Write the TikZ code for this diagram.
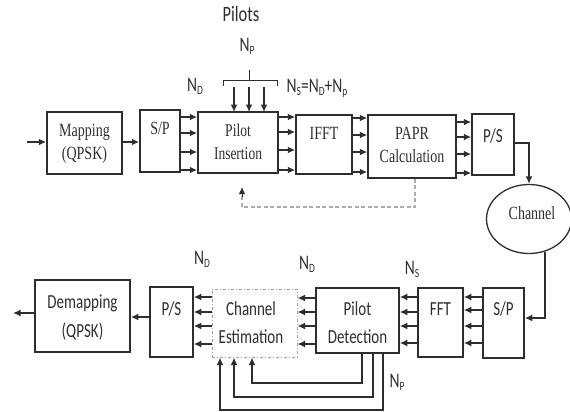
\documentclass[tikz,border=0pt]{standalone}
\usepackage{graphicx}
\usepackage{fontspec}
\setmainfont{Liberation Serif}
\newfontfamily\calib{Carlito}
\usetikzlibrary{arrows.meta,shapes.geometric}
\definecolor{ink}{HTML}{2E2E2E}
\newcommand\lo[1]{\raisebox{-0.35ex}{\fontsize{9.5}{9.5}\selectfont #1}}
\newcommand\tall[1]{\scalebox{1}[1.33]{\begin{tabular}{@{}c@{}}#1\end{tabular}}}
\tikzset{
  box/.style={draw=ink,line width=1.5pt,rectangle,inner sep=0pt},
  cebox/.style={draw=gray!75,line width=1pt,dash dot,rectangle,inner sep=0pt},
  serif/.style={text=ink,font=\fontsize{14}{17.3}\selectfont,inner sep=0pt},
  sans/.style={text=ink,font=\calib\fontsize{15}{21}\selectfont,inner sep=0pt},
  lab/.style={text=ink,font=\calib\fontsize{15.5}{17}\selectfont,inner sep=0pt},
  conn/.style={draw=ink,line width=1.5pt,-{Latex[length=7.5pt,width=7pt]}},
  wire/.style={draw=ink,line width=1.3pt},
  fb/.style={draw=gray!65,line width=1.2pt,dash pattern=on 4pt off 2.5pt},
}
\begin{document}
\begin{tikzpicture}[x=1pt,y=-1pt]
\useasboundingbox (0,0) rectangle (570,412);
% ---------- top row ----------
\node[box,minimum width=75pt,minimum height=62pt] (map) at (84.5,143) {};
\node[serif] (mapt) at (84.5,143.5) {\tall{Mapping\\(QPSK)}};
\node[box,minimum width=40pt,minimum height=62pt] (sp1) at (160,141) {};
\node[serif] (sp1t) at (160,130) {\tall{S/P}};
\node[box,minimum width=80pt,minimum height=61pt] (pi) at (238,142.5) {};
\node[serif,font=\fontsize{13.5}{17.3}\selectfont] (pit) at (238,143.5) {\tall{Pilot\\Insertion}};
\node[box,minimum width=56pt,minimum height=59pt] (ifft) at (324,144.5) {};
\node[serif] (ifftt) at (324,135) {\tall{IFFT}};
\node[box,minimum width=88pt,minimum height=63pt] (papr) at (412,146.5) {};
\node[serif] (paprt) at (412,146.5) {\tall{PAPR\\Calculation}};
\node[box,minimum width=42pt,minimum height=61pt] (ps1) at (493,144.5) {};
\node[sans] (ps1t) at (493,137) {\tall{P/S}};
\node[draw=ink,line width=1.3pt,ellipse,minimum width=85pt,minimum height=69pt,inner sep=0pt] (chan) at (529,219) {};
\node[serif] (chant) at (532,215) {\tall{Channel}};
% labels top
\node[lab,font=\calib\fontsize{16.5}{18}\selectfont] (pilots) at (241,17) {\tall{Pilots}};
\node[lab] (np1) at (247,47) {\tall{N\lo{P}}};
\node[lab] (nd1) at (195,87) {\tall{N\lo{D}}};
\node[lab] (ns1) at (317,88) {\tall{N\lo{S}=N\lo{D}+N\lo{p}}};
% brace
\coordinate (bl) at (223,86);
\coordinate (br) at (277,86);
\coordinate (bt) at (249,70);
\draw[wire,line width=1pt] (bl) -- (223,80) -- (277,80) -- (br);
\draw[wire,line width=1pt] (249,80) -- (bt);
% pilot arrows
\foreach \x/\n in {234/a,249/b,264/c}{
  \coordinate (pp\n) at (\x,87);
  \draw[conn] (pp\n) -- (\x,112);
}
% input
\coordinate (in) at (27,142);
\draw[conn] (in) -- (map.west |- in);
\draw[conn] (map.east |- 0,142) -- (sp1.west |- 0,142);
\foreach \y in {117,133,152,170} \draw[conn] (sp1.east |- 0,\y) -- (pi.west |- 0,\y);
\foreach \y in {117,132,150,170} \draw[conn] (pi.east |- 0,\y) -- (ifft.west |- 0,\y);
\foreach \y in {118,135,152,172} \draw[conn] (ifft.east |- 0,\y) -- (papr.west |- 0,\y);
\foreach \y in {122,137,154,173} \draw[conn] (papr.east |- 0,\y) -- (ps1.west |- 0,\y);
\draw[conn] (ps1.east |- 0,143) -| (chan.north);
% dashed feedback
\coordinate (fbend) at (242,187);
\draw[fb] (papr.south -| 415,0) -- (415,207) -- (242,207) -- (242,196);
\draw[draw=ink,line width=1pt,-{Latex[length=7pt,width=6.5pt]}] (242,197) -- (fbend);
% ---------- bottom row ----------
\node[box,minimum width=41pt,minimum height=70pt] (sp2) at (503.5,323) {};
\node[sans] (sp2t) at (503.5,310) {\tall{S/P}};
\node[box,minimum width=45pt,minimum height=69pt] (fft) at (440.5,322.5) {};
\node[sans] (fftt) at (440.5,310) {\tall{FFT}};
\node[box,minimum width=83pt,minimum height=65pt] (pd) at (357.5,320.5) {};
\node[sans] (pdt) at (357.5,324) {\tall{Pilot\\Detection}};
\node[cebox,minimum width=85pt,minimum height=68pt] (ce) at (254.5,323) {};
\node[sans] (cet) at (251,324) {\tall{Channel\\Estimation}};
\node[box,minimum width=43pt,minimum height=70pt] (ps2) at (171.5,322) {};
\node[sans] (ps2t) at (171.5,310) {\tall{P/S}};
\node[box,minimum width=95pt,minimum height=72pt] (dm) at (82.5,316) {};
\node[sans,font=\calib\fontsize{15}{22}\selectfont] (dmt) at (82.5,317.5) {\tall{Demapping\\(QPSK)}};
% labels bottom
\node[lab] (nd2) at (202,260) {\tall{N\lo{D}}};
\node[lab] (nd3) at (307,265) {\tall{N\lo{D}}};
\node[lab] (ns2) at (412,270) {\tall{N\lo{S}}};
\node[lab] (np2) at (397,383) {\tall{N\lo{P}}};
% connections bottom
\coordinate (ch1) at (545,251.5);
\draw[conn] (ch1) -- (545,318) -- (sp2.east |- 0,318);
\foreach \y in {297,310,326,343} \draw[conn] (sp2.west |- 0,\y) -- (fft.east |- 0,\y);
\foreach \y in {297,312,326,343} \draw[conn] (fft.west |- 0,\y) -- (pd.east |- 0,\y);
\foreach \y in {298,312,326,344} \draw[conn] (pd.west |- 0,\y) -- (ce.east |- 0,\y);
\foreach \y in {297,312,326,344} \draw[conn] (ce.west |- 0,\y) -- (ps2.east |- 0,\y);
\draw[conn] (ps2.west |- 0,317) -- (dm.east |- 0,317);
\coordinate (out) at (13,313);
\draw[conn] (dm.west |- out) -- (out);
% pilot feedback
\draw[conn] (pd.south -| 362,0) -- (362,383) -- (252,383) -- (ce.south -| 252,0);
\draw[conn] (pd.south -| 373,0) -- (373,397) -- (234,397) -- (ce.south -| 234,0);
\draw[conn] (pd.south -| 383,0) -- (383,410) -- (220,410) -- (ce.south -| 220,0);
\end{tikzpicture}
\end{document}
